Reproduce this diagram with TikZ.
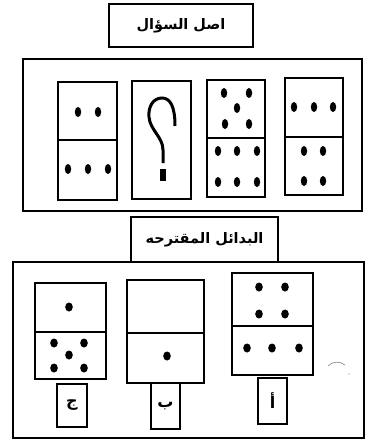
\documentclass[tikz,border=0pt]{standalone}
\usepackage{fontspec}
\newfontfamily\arabicfont[Script=Arabic]{DejaVu Sans}
\TeXXeTstate=1
\begin{document}
\begin{tikzpicture}[x=1pt,y=-1pt,
  box/.style={draw,line width=1.3pt,inner sep=0pt,outer sep=0pt,anchor=north west},
  dom/.style={box,line width=1.2pt},
  divline/.style={line width=1.2pt},
  title/.style={font=\arabicfont\bfseries\fontsize{14.5}{16}\selectfont,inner sep=0pt},
  lbl/.style={font=\arabicfont\bfseries\fontsize{16}{18}\selectfont,inner sep=0pt}]
\useasboundingbox (0,0) rectangle (366,441);
\newcommand{\vdot}[2]{\fill (#1,#2) ellipse [x radius=3.2, y radius=5];}
\newcommand{\rdot}[2]{\fill (#1,#2) ellipse [x radius=3.8, y radius=4.5];}

% top title
\node[box,minimum width=144pt,minimum height=43pt] (t1) at (109,4) {};
\node[title] (t1txt) at (t1.center) {\beginR اصل السؤال\endR};

% top frame
\node[box,minimum width=339pt,minimum height=152pt] (f1) at (23,59) {};

% domino 1
\node[dom,minimum width=59pt,minimum height=118pt] (d1) at (58,82) {};
\coordinate (d1a) at (58,140); \coordinate (d1b) at (117,140);
\draw[divline] (d1a) -- (d1b);
\vdot{78}{112}\vdot{98}{112}
\vdot{68}{169}\vdot{88}{169}\vdot{108}{169}

% domino 2 (question)
\node[dom,minimum width=59pt,minimum height=118pt] (d2) at (132,81) {};
\draw[line width=3pt] (175,126) .. controls (175,106) and (170,98) .. (162,98)
  .. controls (153,98) and (148,107) .. (149,117)
  .. controls (150,130) and (163,137) .. (163,150) -- (163,163);
\fill (160,169) rectangle (166,181);

% domino 3
\node[dom,minimum width=58pt,minimum height=117pt] (d3) at (207,80) {};
\coordinate (d3a) at (207,138); \coordinate (d3b) at (265,138);
\draw[divline] (d3a) -- (d3b);
\vdot{224}{93}\vdot{249}{93}\vdot{237}{108}\vdot{225}{124}\vdot{249}{124}
\vdot{218}{151}\vdot{237}{151}\vdot{257}{151}
\vdot{218}{182}\vdot{237}{182}\vdot{257}{182}

% domino 4
\node[dom,minimum width=58pt,minimum height=117pt] (d4) at (285,78) {};
\coordinate (d4a) at (285,137); \coordinate (d4b) at (343,137);
\draw[divline] (d4a) -- (d4b);
\vdot{294}{107}\vdot{314}{107}\vdot{333}{107}
\vdot{304}{151}\vdot{323}{151}
\vdot{304}{181}\vdot{323}{181}

% second title
\node[box,minimum width=147pt,minimum height=45pt] (t2) at (131,217) {};
\node[title] (t2txt) at (t2.center) {\beginR البدائل المقترحه\endR};

% bottom frame
\node[box,minimum width=351pt,minimum height=176pt] (f2) at (13,262) {};

% option j
\node[dom,minimum width=71pt,minimum height=96pt] (oj) at (35,283) {};
\coordinate (oja) at (35,332); \coordinate (ojb) at (106,332);
\draw[divline] (oja) -- (ojb);
\rdot{69}{307}
\rdot{54}{343}\rdot{84}{343}\rdot{69}{355}\rdot{54}{368}\rdot{84}{368}
\node[box,minimum width=30pt,minimum height=43pt] (lj) at (57,384) {};
\node[lbl] (ljt) at (lj.center) {\beginR ج\endR};

% option b
\node[dom,minimum width=77pt,minimum height=103pt] (ob) at (127,280) {};
\coordinate (oba) at (127,333); \coordinate (obb) at (204,333);
\draw[divline] (oba) -- (obb);
\rdot{167}{356}
\node[box,minimum width=29pt,minimum height=46pt] (lb) at (151,383) {};
\node[lbl] (lbt) at (lb.center) {\beginR ب\endR};

% option a
\node[dom,minimum width=81pt,minimum height=102pt] (oa) at (232,273) {};
\coordinate (oaa) at (232,326); \coordinate (oab) at (313,326);
\draw[divline] (oaa) -- (oab);
\rdot{259}{287}\rdot{285}{287}\rdot{259}{314}\rdot{285}{314}
\rdot{247}{348}\rdot{272}{348}\rdot{299}{348}
\node[box,minimum width=29pt,minimum height=46pt] (la) at (258,378) {};
\node[lbl] (lat) at (la.center) {\beginR أ\endR};

% stray mark
\draw[line width=0.6pt,gray] (328,366) .. controls (333,361) and (340,361) .. (345,365);
\fill[gray] (349,374) circle (0.6);
\end{tikzpicture}
\end{document}
